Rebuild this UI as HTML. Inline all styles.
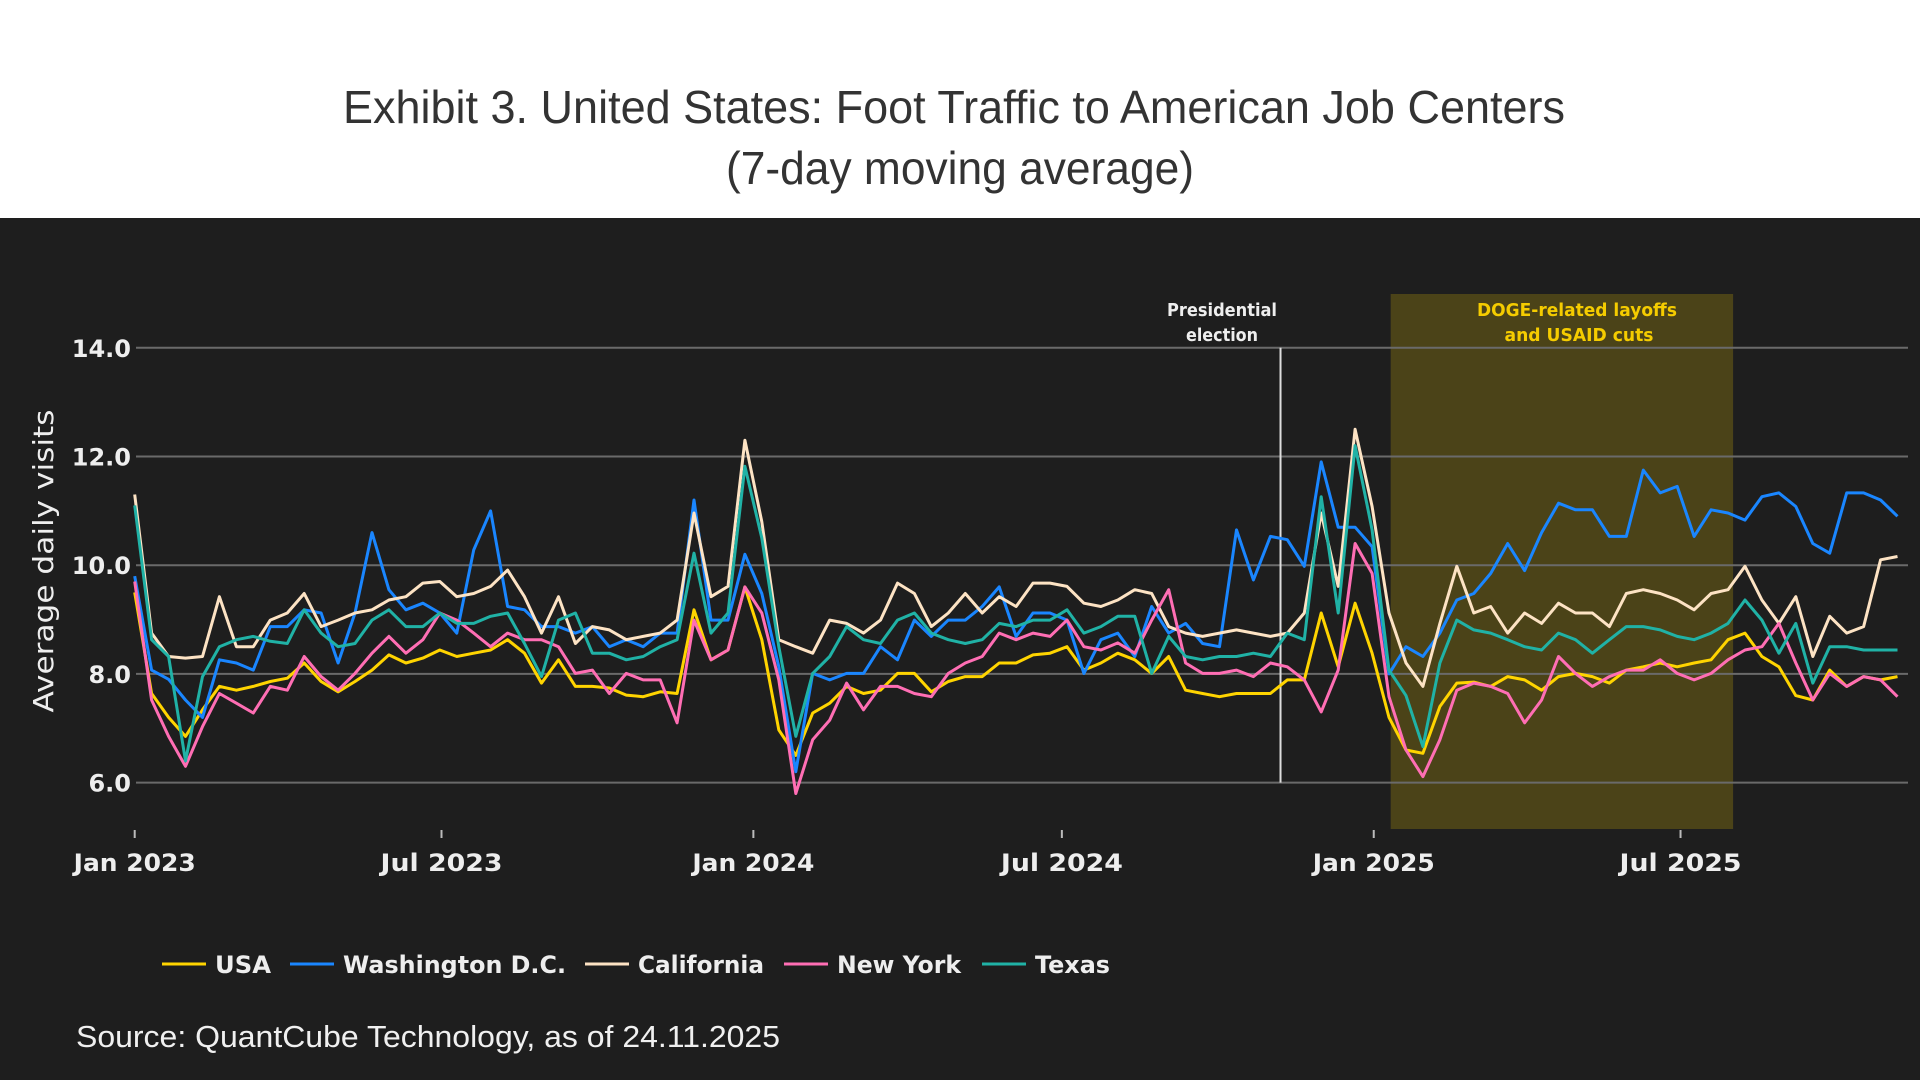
<!DOCTYPE html>
<html><head><meta charset="utf-8"><style>
html,body{margin:0;padding:0;width:1920px;height:1080px;overflow:hidden;background:#fff}
svg{display:block}
</style></head><body>
<svg id="chart" xmlns="http://www.w3.org/2000/svg" width="1920" height="1080" viewBox="0 0 1920 1080">
<rect x="0" y="0" width="1920" height="218" fill="#ffffff"/>
<rect x="0" y="218" width="1920" height="862" fill="#1e1e1e"/>
<text x="954" y="123" text-anchor="middle" font-family="Liberation Sans, sans-serif" font-size="46" fill="#333333" textLength="1222" lengthAdjust="spacingAndGlyphs">Exhibit 3. United States: Foot Traffic to American Job Centers</text>
<text x="960" y="184" text-anchor="middle" font-family="Liberation Sans, sans-serif" font-size="46" fill="#333333" textLength="468" lengthAdjust="spacingAndGlyphs">(7-day moving average)</text>
<g id="plot"></g>
<text transform="translate(53,561) rotate(-90)" text-anchor="middle" font-family="DejaVu Sans, sans-serif" font-size="28" fill="#eeeeee" textLength="303" lengthAdjust="spacingAndGlyphs">Average daily visits</text>
<text x="76" y="1047" font-family="Liberation Sans, sans-serif" font-size="31" fill="#f0f0f0" textLength="704" lengthAdjust="spacingAndGlyphs">Source: QuantCube Technology, as of 24.11.2025</text>
</svg>
<script>
const categoriesStepDays = 10;
const yTicks = [6, 8, 10, 12, 14];
const yTickLabels = ["6.0", "8.0", "10.0", "12.0", "14.0"];
const xTickDays = [0, 181, 365, 547, 731, 912];
const xTickLabels = ["Jan 2023", "Jul 2023", "Jan 2024", "Jul 2024", "Jan 2025", "Jul 2025"];
const electionDay = [676];
const dogeRange = [741, 943];
const seriesNames = ["USA", "Washington D.C.", "California", "New York", "Texas"];
const usaValues = [9.5,7.64,7.2,6.85,7.34,7.77,7.7,7.77,7.86,7.92,
8.2,7.86,7.67,7.86,8.07,8.35,8.2,8.29,8.44,8.32,
8.38,8.44,8.63,8.38,7.83,8.26,7.77,7.77,7.74,7.61,
7.58,7.67,7.64,9.18,8.26,8.44,9.6,8.63,6.97,6.5,
7.28,7.46,7.77,7.64,7.7,8.01,8.01,7.67,7.86,7.95,
7.95,8.2,8.2,8.35,8.38,8.5,8.07,8.2,8.38,8.26,
8.01,8.32,7.7,7.64,7.58,7.64,7.64,7.64,7.89,7.89,
9.12,8.13,9.3,8.38,7.2,6.6,6.54,7.4,7.83,7.85,
7.77,7.95,7.89,7.7,7.95,8.01,7.95,7.83,8.07,8.13,
8.2,8.13,8.2,8.26,8.63,8.75,8.32,8.13,7.6,7.52,
8.07,7.77,7.95,7.89,7.95];
const dcValues = [9.8,8.07,7.9,7.52,7.2,8.26,8.2,8.07,8.87,8.87,
9.18,9.12,8.2,9.12,10.6,9.55,9.18,9.3,9.12,8.75,
10.28,11.0,9.24,9.18,8.87,8.87,8.75,8.87,8.5,8.63,
8.5,8.75,8.75,11.2,8.99,8.99,10.2,9.48,8.13,6.2,
8.01,7.89,8.01,8.01,8.5,8.26,8.99,8.69,8.99,8.99,
9.24,9.6,8.69,9.12,9.12,8.99,8.01,8.63,8.75,8.32,
9.24,8.75,8.93,8.56,8.5,10.65,9.73,10.53,10.47,9.98,
11.9,10.7,10.7,10.34,8.0,8.5,8.32,8.75,9.36,9.48,
9.85,10.4,9.9,10.6,11.14,11.02,11.02,10.53,10.53,11.75,
11.33,11.45,10.53,11.02,10.96,10.83,11.26,11.33,11.08,10.4,
10.22,11.33,11.33,11.2,10.9];
const caValues = [11.3,8.75,8.32,8.29,8.32,9.42,8.5,8.5,8.99,9.12,
9.48,8.87,8.99,9.12,9.18,9.36,9.42,9.67,9.7,9.42,
9.48,9.61,9.91,9.42,8.75,9.42,8.56,8.87,8.81,8.63,
8.69,8.75,8.99,10.96,9.42,9.61,12.3,10.8,8.63,8.5,
8.38,8.99,8.93,8.75,8.99,9.67,9.48,8.87,9.12,9.48,
9.12,9.42,9.24,9.67,9.67,9.61,9.3,9.24,9.36,9.55,
9.48,8.87,8.75,8.69,8.75,8.81,8.75,8.69,8.75,9.12,
10.96,9.61,12.5,11.08,9.12,8.2,7.77,8.93,9.98,9.12,
9.24,8.75,9.12,8.93,9.3,9.12,9.12,8.87,9.48,9.55,
9.48,9.36,9.18,9.48,9.55,9.98,9.36,8.93,9.42,8.32,
9.06,8.75,8.87,10.1,10.16];
const nyValues = [9.7,7.52,6.85,6.3,7.03,7.64,7.46,7.28,7.77,7.7,
8.32,7.95,7.7,8.01,8.38,8.69,8.38,8.63,9.12,8.99,
8.75,8.5,8.75,8.63,8.63,8.5,8.01,8.07,7.64,8.01,
7.89,7.89,7.1,8.99,8.26,8.44,9.6,9.12,7.89,5.8,
6.79,7.15,7.83,7.34,7.77,7.77,7.64,7.58,8.01,8.2,
8.32,8.75,8.63,8.75,8.69,8.99,8.5,8.44,8.57,8.38,
8.99,9.55,8.2,8.01,8.01,8.07,7.95,8.2,8.13,7.89,
7.3,8.07,10.4,9.85,7.58,6.6,6.11,6.79,7.7,7.83,
7.77,7.64,7.1,7.52,8.32,8.01,7.77,7.95,8.07,8.07,
8.26,8.01,7.89,8.01,8.26,8.44,8.5,8.93,8.2,7.52,
8.01,7.77,7.95,7.89,7.58];
const txValues = [11.1,8.63,8.32,6.4,7.95,8.5,8.63,8.69,8.6,8.56,
9.18,8.75,8.5,8.56,8.99,9.18,8.87,8.87,9.12,8.93,
8.93,9.06,9.12,8.56,7.95,8.99,9.12,8.38,8.38,8.26,
8.32,8.5,8.63,10.22,8.75,9.12,11.82,10.5,8.5,6.85,
8.01,8.32,8.87,8.63,8.56,8.99,9.12,8.75,8.63,8.56,
8.63,8.93,8.87,8.99,8.99,9.18,8.75,8.87,9.06,9.06,
8.01,8.69,8.32,8.26,8.32,8.32,8.38,8.32,8.75,8.63,
11.26,9.12,12.2,10.65,8.07,7.6,6.66,8.2,8.99,8.81,
8.75,8.63,8.5,8.44,8.75,8.63,8.38,8.63,8.87,8.87,
8.81,8.69,8.63,8.75,8.93,9.36,8.99,8.38,8.93,7.83,
8.5,8.5,8.44,8.44,8.44];

const NS = "http://www.w3.org/2000/svg";
const X0 = 134.7, PXDAY = 1.695, Y14 = 347.8, PXUNIT = 54.35;
function xScale(day){ return X0 + day * PXDAY; }
function yScale(v){ return Y14 + (14 - v) * PXUNIT; }
const plot = document.getElementById('plot');
function mk(tag, attrs){ const e = document.createElementNS(NS, tag); for (const k in attrs) e.setAttribute(k, attrs[k]); return e; }

const shade = mk('rect', {x: xScale(dogeRange[0]), y: 294, width: xScale(dogeRange[1]) - xScale(dogeRange[0]), height: 535, fill: 'rgba(255,215,0,0.2)'});


plot.appendChild(shade);

yTicks.forEach((v, i) => {
  const g = mk('line', {x1: 136, x2: 1908, y1: yScale(v), y2: yScale(v), stroke: '#6a6a6a', 'stroke-width': 2});
  
  
  plot.appendChild(g);
  const t = mk('text', {x: 131, y: yScale(v) + 9, 'text-anchor': 'end', 'font-family': 'DejaVu Sans, sans-serif', 'font-weight': 'bold', 'font-size': 24, fill: '#eeeeee'});
  t.textContent = yTickLabels[i];
  
  
  plot.appendChild(t);
});

xTickDays.forEach((d, i) => {
  const tk = mk('line', {x1: xScale(d), x2: xScale(d), y1: 830, y2: 838, stroke: '#bbbbbb', 'stroke-width': 2});
  
  
  plot.appendChild(tk);
  const t = mk('text', {x: xScale(d), y: 871, 'text-anchor': 'middle', 'font-family': 'DejaVu Sans, sans-serif', 'font-weight': 'bold', 'font-size': 24, fill: '#eeeeee', textLength: 122, lengthAdjust: 'spacingAndGlyphs'});
  t.textContent = xTickLabels[i];
  
  
  plot.appendChild(t);
});

const el = mk('line', {x1: xScale(electionDay[0]), x2: xScale(electionDay[0]), y1: yScale(14), y2: yScale(6), stroke: '#dddddd', 'stroke-width': 2});


plot.appendChild(el);

const colors = ['#ffd400', '#1a86ff', '#fde3c4', '#ff6eb4', '#20b2a6'];
const allValues = [usaValues, dcValues, caValues, nyValues, txValues];
const seriesKeys = ['usa', 'washington-dc', 'california', 'new-york', 'texas'];
allValues.forEach((vals, s) => {
  const pts = vals.map((v, i) => xScale(i * categoriesStepDays).toFixed(1) + ',' + yScale(v).toFixed(1)).join(' ');
  const pl = mk('polyline', {points: pts, fill: 'none', stroke: colors[s], 'stroke-width': 3, 'stroke-linejoin': 'round'});
  
  
  plot.appendChild(pl);
});

function ann(txt, x, y, len, fill, name){
  const t = mk('text', {x: x, y: y, 'text-anchor': 'middle', 'font-family': 'DejaVu Sans, sans-serif', 'font-weight': 'bold', 'font-size': 18, fill: fill, textLength: len, lengthAdjust: 'spacingAndGlyphs'});
  t.textContent = txt;
  
  
  plot.appendChild(t);
}
ann('Presidential', 1222, 316, 110, '#eeeeee', 'election-annotation');
ann('election', 1222, 341, 72, '#eeeeee', 'election-annotation');
ann('DOGE-related layoffs', 1577, 316, 200, '#f5cc00', 'doge-annotation');
ann('and USAID cuts', 1579, 341, 149, '#f5cc00', 'doge-annotation');

const legX = [162, 290, 585, 784, 982];
const legLen = [56, 223, 126, 124, 75];
seriesNames.forEach((n, i) => {
  const g = mk('g', {});
  
  
  const ln = mk('line', {x1: legX[i], x2: legX[i] + 44, y1: 964, y2: 964, stroke: colors[i], 'stroke-width': 3});
  
  
  g.appendChild(ln);
  const t = mk('text', {x: legX[i] + 53, y: 973, 'font-family': 'DejaVu Sans, sans-serif', 'font-weight': 'bold', 'font-size': 24, fill: '#eeeeee', textLength: legLen[i], lengthAdjust: 'spacingAndGlyphs'});
  t.textContent = n;
  
  
  g.appendChild(t);
  plot.appendChild(g);
});
</script>
</body></html>
